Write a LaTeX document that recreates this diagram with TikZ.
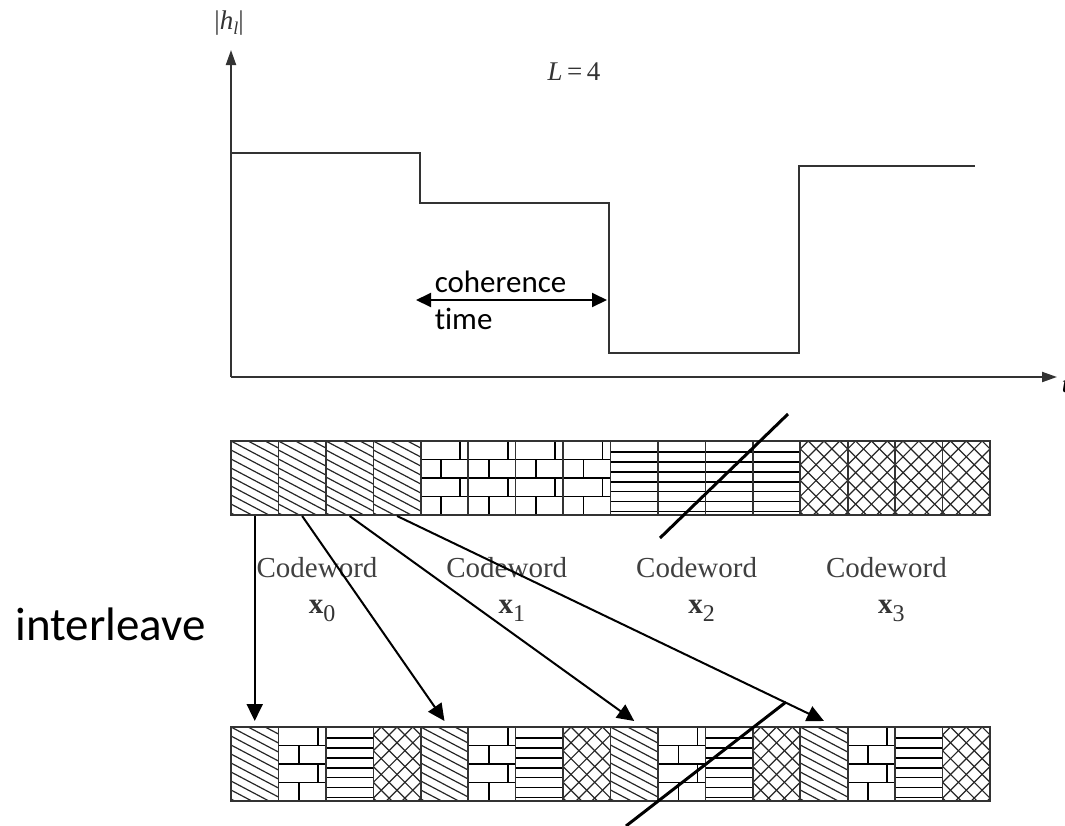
\documentclass[tikz,border=0pt]{standalone}
\usepackage{fontspec}
\setmainfont{Liberation Serif}
\newfontfamily\calibri[Ligatures=NoCommon]{Carlito}
\usetikzlibrary{arrows.meta}

% rozmery bloku
\newcommand{\bw}{47.44}
\newcommand{\bh}{74}

% sikme srafovanie
\newcommand{\sikmy}[2]{%
  \begin{scope}
    \clip (#1,#2) rectangle ++(\bw,\bh);
    \foreach \m in {-3,...,8}
      \draw[tenka] (#1,#2+9*\m) -- ++(\bw,25);
  \end{scope}
  \draw[blok] (#1,#2) rectangle ++(\bw,\bh);
}

% tehly
\newcommand{\tehla}[2]{%
  \draw[tehl] (#1,#2+18.5) -- ++(\bw,0) (#1,#2+37) -- ++(\bw,0) (#1,#2+55.5) -- ++(\bw,0);
  \draw[tehl] (#1+39.5,#2) -- ++(0,18.5) (#1+39.5,#2+37) -- ++(0,18.5);
  \draw[tehl] (#1+20.5,#2+18.5) -- ++(0,18.5) (#1+20.5,#2+55.5) -- ++(0,18.5);
  \draw[blok] (#1,#2) rectangle ++(\bw,\bh);
}

% vodorovne pruhy
\newcommand{\pruhy}[2]{%
  \foreach \m in {0,...,6}
    \draw[tehl] (#1,#2+11+9.9*\m) -- ++(\bw,0);
  \draw[blok] (#1,#2) rectangle ++(\bw,\bh);
}

% mriezka
\newcommand{\mriezka}[2]{%
  \begin{scope}
    \clip (#1,#2) rectangle ++(\bw,\bh);
    \foreach \m in {-5,...,8} {
      \draw[tenka] (#1+7.9+15.8*\m,#2) -- ++(\bh,\bh);
      \draw[tenka] (#1+7.9+15.8*\m,#2) -- ++(-\bh,\bh);
    }
  \end{scope}
  \draw[blok] (#1,#2) rectangle ++(\bw,\bh);
}

\begin{document}
\begin{tikzpicture}[x=1pt, y=-1pt, line width=1.5pt,
    os/.style={line width=2pt, draw=black!80, -{Triangle[length=15pt,width=10pt]}},
    krivka/.style={line width=1.8pt, draw=black!80},
    blok/.style={line width=1.6pt, draw=black!80},
    tehl/.style={line width=1.7pt, draw=black},
    tenka/.style={line width=1.2pt, draw=black!85},
    sipka/.style={line width=2pt, -{Triangle[length=17pt,width=16pt]}},
    lomka/.style={line width=3pt, draw=black},
    txt/.style={inner sep=0pt, anchor=base}]
  \useasboundingbox (0,0) rectangle (1065,825);

  % osi
  \coordinate (o) at (231,377);
  \coordinate (oy) at (231,50);
  \coordinate (ox) at (1057,377);
  \draw[os] (o) -- (oy);
  \draw[os] (o) -- (ox);
  \node[txt, text=black!80, font=\fontsize{27}{30}\selectfont] (hl) at (229,29)
    {|\textit{h}\raisebox{-5pt}{\fontsize{18}{18}\selectfont\textit{l}}|};
  \node[txt, text=black!80, font=\fontsize{27}{30}\selectfont] (ll) at (574,80) {\textit{L}\,=\,4};
  \node[txt, anchor=base west, font=\fontsize{25}{30}\selectfont] (tt) at (1061,392) {\textit{t}};

  % kanal
  \draw[krivka] (231,153) -- (420,153) -- (420,203) -- (609,203) -- (609,353)
    -- (799,353) -- (799,166) -- (975,166);

  % koherencny cas
  \coordinate (ca) at (416,300);
  \coordinate (cb) at (607,300);
  \draw[line width=2pt, {Triangle[length=15pt,width=14pt]}-{Triangle[length=15pt,width=14pt]}] (ca) -- (cb);
  \node[txt, anchor=base west, font=\calibri\fontsize{31}{36}\selectfont] (koh) at (434,292) {coherence};
  \node[txt, anchor=base west, font=\calibri\fontsize{31}{36}\selectfont] (cas) at (434,329) {time};

  % horny pas
  \foreach \i in {0,...,3} {
    \pgfmathsetmacro\xa{231+\bw*\i}
    \pgfmathsetmacro\xb{231+\bw*(\i+4)}
    \pgfmathsetmacro\xc{231+\bw*(\i+8)}
    \pgfmathsetmacro\xd{231+\bw*(\i+12)}
    \sikmy{\xa}{441}
    \tehla{\xb}{441}
    \pruhy{\xc}{441}
    \mriezka{\xd}{441}
  }
  \draw[lomka] (788,414) -- (660,538);

  % kodove slova
  \foreach \i in {0,...,3} {
    \node[txt, text=black!75, font=\fontsize{29}{34}\selectfont] (cw\i) at (317+189.8*\i,577) {Codeword};
    \node[txt, text=black!80, font=\fontsize{29}{34}\selectfont] (x\i) at (322+189.8*\i,613)
      {\textbf{x}\raisebox{-8pt}{\fontsize{24}{24}\selectfont\i}};
  }

  \node[txt, anchor=base west, font=\calibri\fontsize{47}{56}\selectfont] (il) at (15,640) {interleave};

  % dolny pas
  \foreach \i in {0,...,3} {
    \pgfmathsetmacro\xa{231+\bw*4*\i}
    \pgfmathsetmacro\xb{231+\bw*(4*\i+1)}
    \pgfmathsetmacro\xc{231+\bw*(4*\i+2)}
    \pgfmathsetmacro\xd{231+\bw*(4*\i+3)}
    \sikmy{\xa}{727}
    \tehla{\xb}{727}
    \pruhy{\xc}{727}
    \mriezka{\xd}{727}
  }
  \draw[lomka] (786,702) -- (626,826);

  % prekladanie
  \foreach \i in {0,...,3} {
    \coordinate (h\i) at (231+\bw*\i+\bw/2,516);
    \coordinate (d\i) at (231+\bw*4*\i+\bw/2,721);
    \draw[sipka] (h\i) -- (d\i);
  }
\end{tikzpicture}
\end{document}
